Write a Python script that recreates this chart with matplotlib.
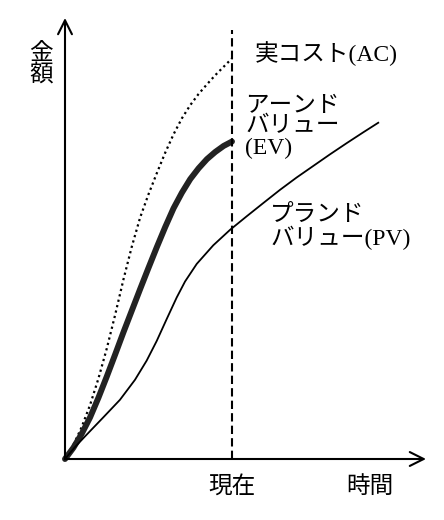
import matplotlib.pyplot as plt

# データ
ac_t = [0, 0.5, 1.0, 1.5, 2.0, 2.5, 3.0, 3.5, 4.0, 4.5, 5.0, 5.5, 6.0, 6.5, 7.0, 7.5,
        8.0, 8.5, 9.0, 9.5, 10.0]
ac_v = [0, 0.35, 0.80, 1.35, 2.01, 2.76, 3.60, 4.49, 5.31, 6.04, 6.62, 7.15, 7.66, 8.12,
        8.52, 8.85, 9.13, 9.37, 9.60, 9.81, 10.02]

ev_t = [0, 0.5, 1.0, 1.5, 2.0, 2.5, 3.0, 3.5, 4.0, 4.5, 5.0, 5.5, 6.0, 6.5, 7.0, 7.5,
        8.0, 8.5, 9.0, 9.5, 10.0]
ev_v = [0, 0.28, 0.63, 1.04, 1.53, 2.06, 2.61, 3.17, 3.71, 4.25, 4.78, 5.30, 5.80, 6.27,
        6.66, 7.00, 7.27, 7.50, 7.68, 7.83, 7.94]

pv_t = [0, 0.60, 1.30, 2.29, 3.29, 4.19, 4.89, 5.49, 6.09, 6.69, 7.19, 7.89, 8.88, 9.88,
        10.88, 11.87, 12.87, 13.87, 14.87, 15.87, 16.87, 17.86, 18.76]
pv_v = [0, 0.30, 0.61, 1.04, 1.48, 1.98, 2.46, 2.95, 3.50, 4.04, 4.44, 4.88, 5.345, 5.73,
        6.07, 6.40, 6.73, 7.04, 7.33, 7.62, 7.90, 8.17, 8.41]

now_t = 10.0
now_top = 10.73
t_max = 21.62
v_max = 11.03

fonts = ['Liberation Serif', 'Noto Sans CJK JP']
fs = 17

fig = plt.figure(figsize=(4.44, 5.2), dpi=100)
ax = fig.add_axes([65 / 444, 61 / 520, 361 / 444, 441 / 520])
ax.set_xlim(0, t_max)
ax.set_ylim(0, v_max)
ax.axis('off')

# 軸（矢印）
arrow = dict(arrowstyle='->,head_length=0.5,head_width=0.25', lw=1.5, color='black',
             shrinkA=0, shrinkB=0, mutation_scale=20)
ax.annotate('', xy=(0, v_max), xytext=(0, 0), arrowprops=arrow, annotation_clip=False)
ax.annotate('', xy=(t_max, 0), xytext=(0, 0), arrowprops=arrow, annotation_clip=False)

# 曲線
ax.plot(ac_t, ac_v, color='black', lw=1.6, linestyle=(0, (1, 1.5)), clip_on=False)
ax.plot(ev_t, ev_v, color='#222222', lw=4.3, solid_capstyle='round',
        solid_joinstyle='round', clip_on=False)
ax.plot(pv_t, pv_v, color='black', lw=1.3, solid_joinstyle='round', clip_on=False)

# 現在の線
ax.plot([now_t, now_t], [0, now_top], color='black', lw=1.5, linestyle=(0, (4, 2)), clip_on=False)

# ラベル
ax.text(11.38, 10.14, '実コスト(AC)', family=fonts, fontsize=fs, va='center', ha='left')
ax.text(10.78, 8.3, 'アーンド\nバリュー\n(EV)', family=fonts, fontsize=fs, va='center',
        ha='left', linespacing=1.0)
ax.text(12.28, 5.79, 'プランド\nバリュー(PV)', family=fonts, fontsize=fs, va='center',
        ha='left', linespacing=1.0)
ax.text(now_t, -0.7, '現在', family=fonts, fontsize=fs, va='center', ha='center', clip_on=False)
ax.text(18.26, -0.7, '時間', family=fonts, fontsize=fs, va='center', ha='center', clip_on=False)
ax.text(-1.44, 9.84, '金\n額', family=fonts, fontsize=fs, va='center', ha='center',
        linespacing=0.95, clip_on=False)

fig.savefig('out.png', dpi=100)
